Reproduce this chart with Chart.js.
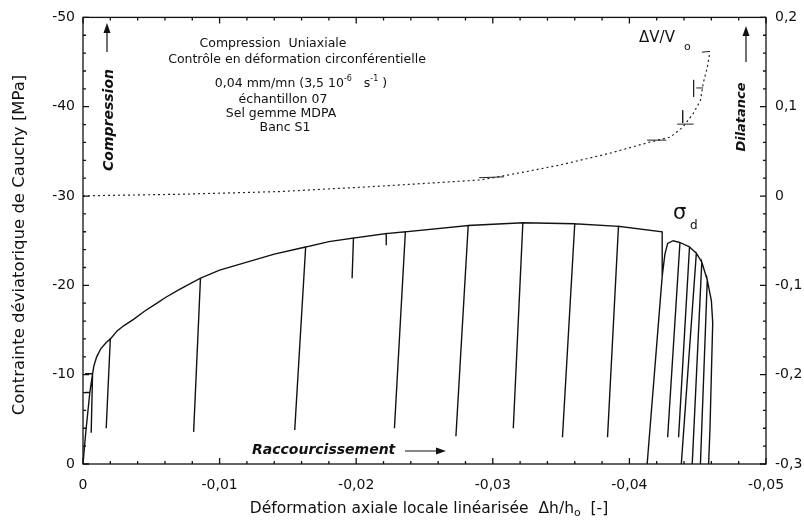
<!DOCTYPE html>
<html>
<head>
<meta charset="utf-8">
<script src="https://cdn.jsdelivr.net/npm/chart.js@4.4.0/dist/chart.umd.min.js"></script>
<style>
  html, body { margin: 0; padding: 0; background: #fff; }
  canvas { display: block; }
</style>
</head>
<body>
<canvas id="chart" width="804" height="522"></canvas>
<script>
// Deviatoric stress (MPa) vs axial strain, with the unload/reload loops
const stressX = [0, -0.0002, -0.0005, -0.00015, -0.0005, -0.0007, -0.00015, -0.0007, -0.0006, -0.0007, -0.0008, -0.001,
  -0.0013, -0.0017, -0.002, -0.0017, -0.002, -0.0025, -0.003, -0.0037, -0.0045, -0.0055, -0.0061, -0.007,
  -0.0086, -0.0081, -0.0086, -0.010, -0.012, -0.014, -0.0163, -0.0155, -0.0163, -0.018,
  -0.0198, -0.0197, -0.0198, -0.0222, -0.0222, -0.0222, -0.0236, -0.0228, -0.0236, -0.0282, -0.0273, -0.0282,
  -0.0322, -0.0315, -0.0322, -0.036, -0.0351, -0.036, -0.0392, -0.0384, -0.0392, -0.0424, -0.0424, -0.0413,
  -0.0424, -0.0426, -0.0428, -0.0432, -0.0437, -0.0428, -0.0437, -0.0444, -0.0436, -0.0444, -0.0449, -0.0438, -0.0449,
  -0.0453, -0.0446, -0.0453, -0.0457, -0.0452, -0.0457, -0.046, -0.0461, -0.046, -0.0459, -0.0458];
const stressY = [0, -3.5, -8, -8, -8, -10.1, -10.1, -10.1, -3.5, -10.1, -11.0, -12.0,
  -12.9, -13.6, -14.0, -4.0, -14.0, -14.9, -15.5, -16.2, -17.1, -18.1, -18.7, -19.5,
  -20.8, -3.6, -20.8, -21.7, -22.6, -23.5, -24.3, -3.8, -24.3, -24.9,
  -25.3, -20.8, -25.3, -25.8, -24.5, -25.8, -26.0, -4.0, -26.0, -26.7, -3.1, -26.7,
  -27.0, -4.0, -27.0, -26.9, -3.0, -26.9, -26.6, -3.0, -26.6, -26.0, -21.0, 0,
  -21.0, -23.5, -24.7, -25.0, -24.8, -3.0, -24.8, -24.3, -3.0, -24.3, -23.6, 0, -23.6,
  -22.6, 0, -22.6, -20.6, 0, -20.6, -18.3, -15.8, -10, -4, 0];

// Volumetric strain ΔV/V0 (right axis)
const dilatX = [0, -0.001, -0.0071, -0.0144, -0.0217, -0.0291, -0.032, -0.0349, -0.0386, -0.0414, -0.043,
  -0.0439, -0.0447, -0.0452, -0.0454, -0.0457, -0.0459];
const dilatY = [0, 0.0005, 0.002, 0.005, 0.011, 0.018, 0.026, 0.0347, 0.048, 0.060, 0.066,
  0.077, 0.093, 0.107, 0.126, 0.144, 0.161];

// short volumetric excursions during the loops (null = break)
const loopX = [-0.029, -0.0308, null, -0.0413, -0.0427, null, -0.0435, -0.0447, null, -0.0439, -0.0439, null,
  -0.0449, -0.0454, null, -0.0447, -0.0447, null, -0.0453, -0.0459];
const loopY = [0.0205, 0.0215, null, 0.0626, 0.0626, null, 0.0805, 0.0805, null, 0.096, 0.082, null,
  0.121, 0.121, null, 0.130, 0.111, null, 0.161, 0.162];

const xTicks = [0, -0.01, -0.02, -0.03, -0.04, -0.05];
const xTickLabels = ['0', '-0,01', '-0,02', '-0,03', '-0,04', '-0,05'];
const yTicks = [0, -10, -20, -30, -40, -50];
const yTickLabels = ['0', '-10', '-20', '-30', '-40', '-50'];
const volTicks = [0.2, 0.1, 0, -0.1, -0.2, -0.3];
const volTickLabels = ['0,2', '0,1', '0', '-0,1', '-0,2', '-0,3'];

const pts = (xs, ys) => xs.map((x, i) => ({ x: x, y: ys[i] }));

const FONT = '"DejaVu Sans", "Liberation Sans", Arial, sans-serif';
const INK = '#111';

function arrow(ctx, x1, y1, x2, y2) {
  const ang = Math.atan2(y2 - y1, x2 - x1);
  ctx.beginPath();
  ctx.moveTo(x1, y1);
  ctx.lineTo(x2 - 6 * Math.cos(ang), y2 - 6 * Math.sin(ang));
  ctx.stroke();
  ctx.beginPath();
  ctx.moveTo(x2, y2);
  ctx.lineTo(x2 - 10 * Math.cos(ang) + 3.5 * Math.sin(ang), y2 - 10 * Math.sin(ang) - 3.5 * Math.cos(ang));
  ctx.lineTo(x2 - 10 * Math.cos(ang) - 3.5 * Math.sin(ang), y2 - 10 * Math.sin(ang) + 3.5 * Math.cos(ang));
  ctx.closePath();
  ctx.fill();
}

// draw text runs [text, size, dy] centred on cx
function runs(ctx, cx, y, parts) {
  let w = 0;
  parts.forEach(p => { ctx.font = p[1] + 'px ' + FONT; w += ctx.measureText(p[0]).width; });
  let x = cx - w / 2;
  ctx.textAlign = 'left';
  parts.forEach(p => {
    ctx.font = p[1] + 'px ' + FONT;
    ctx.fillText(p[0], x, y + (p[2] || 0));
    x += ctx.measureText(p[0]).width;
  });
}

const decor = {
  id: 'decor',
  afterDraw(chart) {
    const { ctx, chartArea: a, scales } = chart;
    ctx.save();
    ctx.strokeStyle = INK;
    ctx.fillStyle = INK;
    ctx.lineWidth = 1.3;
    ctx.strokeRect(a.left, a.top, a.right - a.left, a.bottom - a.top);

    // inward ticks, minor and major
    ctx.beginPath();
    for (let i = 0; i <= 25; i++) {
      const px = scales.x.getPixelForValue(-i * 0.002);
      const len = i % 5 === 0 ? 6 : 3;
      ctx.moveTo(px, a.bottom); ctx.lineTo(px, a.bottom - len);
      ctx.moveTo(px, a.top); ctx.lineTo(px, a.top + len);
      const py = scales.y.getPixelForValue(-i * 2);
      ctx.moveTo(a.left, py); ctx.lineTo(a.left + len, py);
      const pv = scales.vol.getPixelForValue(0.2 - i * 0.02);
      ctx.moveTo(a.right, pv); ctx.lineTo(a.right - len, pv);
    }
    ctx.stroke();

    ctx.textBaseline = 'middle';
    // header block
    const hs = 12.5;
    runs(ctx, 273, 44, [['Compression  Uniaxiale', hs]]);
    runs(ctx, 297, 60, [['Contrôle en déformation circonférentielle', hs]]);
    runs(ctx, 301, 84, [['0,04 mm/mn (3,5 10', hs], ['-6', 8, -5], ['   s', hs], ['-1', 8, -5], [' )', hs]]);
    runs(ctx, 283, 100, [['échantillon 07', hs]]);
    runs(ctx, 281, 114, [['Sel gemme MDPA', hs]]);
    runs(ctx, 285, 128, [['Banc S1', hs]]);

    // curve labels
    runs(ctx, 657, 38, [['ΔV/V', 15]]);
    ctx.font = '11px ' + FONT;
    ctx.fillText('o', 684, 47);
    ctx.font = '21px ' + FONT;
    ctx.fillText('σ', 673, 214);
    ctx.font = '12px ' + FONT;
    ctx.fillText('d', 690, 226);

    // direction notes
    ctx.font = 'italic bold 14px ' + FONT;
    ctx.save();
    ctx.translate(109, 120);
    ctx.rotate(-Math.PI / 2);
    ctx.textAlign = 'center';
    ctx.fillText('Compression', 0, 0);
    ctx.restore();
    ctx.lineWidth = 1.2;
    arrow(ctx, 107, 52, 107, 23);

    ctx.font = 'italic bold 13px ' + FONT;
    ctx.save();
    ctx.translate(742, 117);
    ctx.rotate(-Math.PI / 2);
    ctx.textAlign = 'center';
    ctx.fillText('Dilatance', 0, 0);
    ctx.restore();
    arrow(ctx, 746, 62, 746, 26);

    ctx.font = 'italic bold 14px ' + FONT;
    ctx.textAlign = 'left';
    ctx.fillText('Raccourcissement', 252, 450);
    arrow(ctx, 405, 451, 446, 451);

    // axis titles
    ctx.font = '16.5px ' + FONT;
    ctx.save();
    ctx.translate(20, 245);
    ctx.rotate(-Math.PI / 2);
    ctx.textAlign = 'center';
    ctx.fillText('Contrainte déviatorique de Cauchy [MPa]', 0, 0);
    ctx.restore();
    runs(ctx, 429, 509, [['Déformation axiale locale linéarisée  Δh/h', 15.5], ['o', 11, 4], ['  [-]', 15.5]]);
    ctx.restore();
  }
};

const tickFont = { family: FONT, size: 14 };

new Chart(document.getElementById('chart'), {
  type: 'scatter',
  data: {
    datasets: [
      { label: 'σd', data: pts(stressX, stressY), yAxisID: 'y', showLine: true,
        borderColor: INK, borderWidth: 1.4, pointRadius: 0 },
      { label: 'ΔV/V0', data: pts(dilatX, dilatY), yAxisID: 'vol', showLine: true,
        borderColor: '#222', borderWidth: 1.2, borderDash: [2, 3], pointRadius: 0 },
      { label: 'loops', data: pts(loopX, loopY), yAxisID: 'vol', showLine: true,
        borderColor: '#222', borderWidth: 1, pointRadius: 0, spanGaps: false }
    ]
  },
  options: {
    responsive: false,
    animation: false,
    devicePixelRatio: 1,
    layout: { padding: { top: 17, left: 0, right: 0, bottom: 0 } },
    plugins: { legend: { display: false }, tooltip: { enabled: false } },
    scales: {
      x: {
        type: 'linear', position: 'bottom', min: -0.05, max: 0, reverse: true,
        grid: { display: false, drawTicks: false }, border: { display: false },
        afterBuildTicks: s => { s.ticks = xTicks.map(v => ({ value: v })); },
        afterFit: s => { s.height = 58; },
        ticks: { font: tickFont, color: INK, padding: 13, maxRotation: 0, callback: (v, i) => xTickLabels[i] }
      },
      y: {
        type: 'linear', position: 'left', min: -50, max: 0, reverse: true,
        grid: { display: false, drawTicks: false }, border: { display: false },
        afterBuildTicks: s => { s.ticks = yTicks.map(v => ({ value: v })); },
        afterFit: s => { s.width = 83; },
        ticks: { font: tickFont, color: INK, padding: 8, callback: (v, i) => yTickLabels[i] }
      },
      vol: {
        type: 'linear', position: 'right', min: -0.3, max: 0.2,
        grid: { display: false, drawTicks: false }, border: { display: false },
        afterBuildTicks: s => { s.ticks = volTicks.map(v => ({ value: v })); },
        afterFit: s => { s.width = 38; },
        ticks: { font: tickFont, color: INK, padding: 9, callback: (v, i) => volTickLabels[i] }
      }
    }
  },
  plugins: [decor]
});
</script>
</body>
</html>
